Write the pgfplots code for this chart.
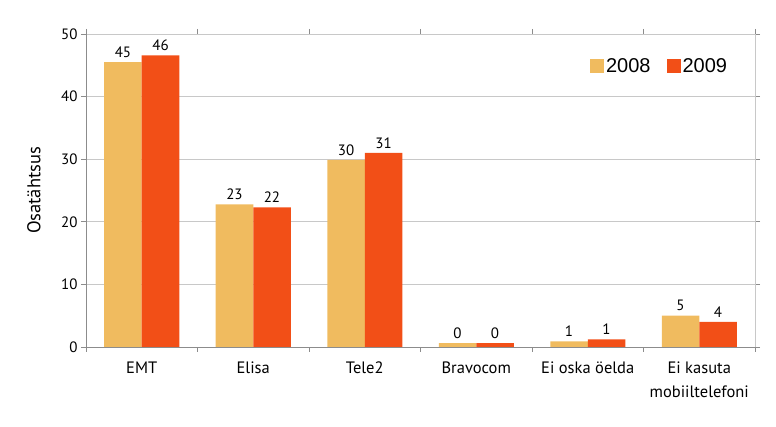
\documentclass[border=0pt]{standalone}
\usepackage{pgfplots}
\pgfplotsset{compat=1.18}
\usepackage{fontspec}
\setmainfont{PT Sans}
\newfontfamily\legfont{Liberation Sans}
\definecolor{c08}{HTML}{F0BB5F}
\definecolor{c09}{HTML}{F24F17}
\definecolor{gridc}{HTML}{C8C8C8}
\definecolor{axc}{HTML}{8C8C8C}
\begin{document}
\begin{tikzpicture}[x=1pt,y=1pt]
\useasboundingbox (-86,-80) rectangle (690,347);
\begin{axis}[
  at={(0,0)}, anchor=south west,
  scale only axis, width=669pt, height=313pt,
  xmin=-0.5, xmax=5.5, ymin=0, ymax=50,
  ybar=0pt, bar width=37.5pt,
  ytick={0,10,...,50},
  ymajorgrids, grid style={gridc, line width=0.8pt},
  xtick={0,...,5},
  xticklabels={EMT,Elisa,Tele2,Bravocom,Ei oska öelda,{Ei kasuta\\mobiiltelefoni}},
  xticklabel style={align=center, font=\fontsize{16.5}{24}\selectfont, yshift=-6pt},
  major x tick style={draw=none},
  minor xtick={-0.5,0.5,...,5.5},
  minor tick length=5pt,
  minor x tick style={axc, line width=0.8pt},
  xminorgrids=false,
  major tick length=5pt,
  tick align=outside,
  y tick style={axc, line width=0.8pt},
  yticklabel style={font=\fontsize{15}{18}\selectfont},
  /pgf/number format/assume math mode=true,
  axis line style={draw=none},
  ylabel={Osatähtsus},
  ylabel style={font=\fontsize{18.5}{20}\selectfont, at={(axis description cs:-0.0777,0.5)}, anchor=center},
  nodes near coords,
  point meta=explicit symbolic,
  nodes near coords style={font=\fontsize{15}{18}\selectfont, black, yshift=1pt},
  legend style={draw=none, fill=none, at={(0.966,0.935)}, anchor=north east,
    font=\legfont\fontsize{20}{22}\selectfont, legend columns=2,
    /tikz/every even column/.append style={column sep=14pt}},
  legend image code/.code={\fill[#1] (0pt,-7pt) rectangle (14pt,7pt);},
  clip=false,
]
\addplot[fill=c08, draw=none] coordinates {(0,45.5) [45] (1,22.8) [23] (2,29.9) [30] (3,0.6) [0] (4,0.9) [1] (5,5.0) [5]};
\addplot[fill=c09, draw=none] coordinates {(0,46.6) [46] (1,22.3) [22] (2,31.0) [31] (3,0.6) [0] (4,1.2) [1] (5,4.0) [4]};
\legend{2008,2009}
\draw[axc, line width=0.8pt] (axis cs:-0.5,0) -- (axis cs:-0.5,50);
\draw[axc, line width=0.8pt] (axis cs:-0.5,0) -- (axis cs:5.5,0);
\draw[gridc, line width=0.8pt] (axis cs:5.5,0) -- (axis cs:5.5,50);
\end{axis}
\end{tikzpicture}
\end{document}
